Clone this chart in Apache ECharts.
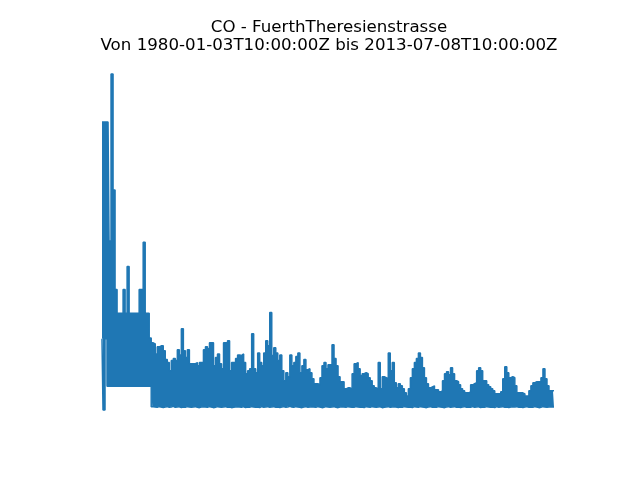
<!DOCTYPE html>
<html>
<head>
<meta charset="utf-8">
<script src="https://cdn.jsdelivr.net/npm/echarts@6/dist/echarts.min.js"></script>
<style>
html,body{margin:0;padding:0;background:#fff;}
#chart{width:640px;height:480px;}
</style>
</head>
<body>
<div id="chart"></div>
<script>
// Title lines
const titleLine1 = 'CO - FuerthTheresienstrasse';
const titleLine2 = 'Von 1980-01-03T10:00:00Z bis 2013-07-08T10:00:00Z';

// Envelope of the dense series, one bin per ~2 px of time (1980 -> 2013), upper values
const highValues = [
  8.57,8.57,8.57,8.57,5.03,10.0,6.55,3.59,2.88,2.88,
  2.88,3.59,2.88,4.27,2.88,2.88,2.88,2.88,2.88,3.59,
  3.59,4.99,2.88,2.88,2.14,
  2.00,1.97,1.67,1.88,1.91,1.91,1.76,1.50,1.41,1.17,
  1.47,1.53,1.47,1.79,1.64,2.42,1.76,1.56,1.79,1.38,
  1.38,1.38,1.41,1.32,1.41,1.41,1.79,1.88,1.82,2.00,
  2.00,1.32,1.56,1.67,1.38,1.23,2.00,2.00,2.06,1.17,
  1.41,1.41,1.53,1.64,1.62,1.67,1.41,1.08,1.17,1.23,
  2.27,1.23,1.11,1.70,1.41,1.32,1.70,2.06,1.91,2.90,
  1.62,1.85,1.70,1.47,1.64,1.17,0.87,1.11,0.99,1.64,
  1.32,1.41,1.59,1.70,1.11,1.32,1.50,1.20,1.23,1.11,
  0.93,0.78,0.78,0.75,0.96,1.32,1.41,1.23,1.35,1.35,
  1.94,1.53,1.32,0.99,0.84,0.84,0.63,0.66,0.66,0.63,
  1.08,1.38,1.41,1.23,1.02,1.08,1.11,1.08,0.96,0.87,
  0.72,0.66,0.63,1.41,0.63,0.99,0.96,0.93,1.70,1.17,
  1.41,0.81,0.66,0.78,0.72,0.63,0.51,0.42,0.63,0.96,
  1.23,1.41,1.53,1.70,1.56,1.26,0.96,0.78,0.66,0.69,
  0.72,0.60,0.60,0.54,0.57,0.87,1.08,1.14,1.05,1.26,
  1.08,0.87,0.84,0.75,0.63,0.57,0.51,0.51,0.54,0.75,
  0.78,0.81,1.17,1.26,1.17,0.87,0.87,0.75,0.69,0.63,
  0.57,0.48,0.48,0.48,0.54,0.93,1.29,1.11,0.96,0.99,
  0.96,0.72,0.51,0.51,0.51,0.48,0.42,0.42,0.57,0.72,
  0.81,0.84,0.84,0.84,0.96,1.23,0.93,0.72,0.57,0.57,
  0.57
];

// Lower values of the envelope
const lowValues = [
  2.12,0.00,2.12,0.71,0.71,0.71,0.71,0.71,0.71,0.71,
  0.71,0.71,0.71,0.71,0.71,0.71,0.71,0.71,0.71,0.71,
  0.71,0.71,0.71,0.71,0.71,
  0.10,0.09,0.08,0.10,0.09,0.07,0.09,0.10,0.08,0.09,0.11,0.08,0.09,0.10,0.07,0.09,0.08,0.10,0.09,0.08,
  0.09,0.10,0.08,0.07,0.09,0.10,0.09,0.08,0.10,0.09,0.07,0.08,0.10,0.09,0.08,0.09,0.10,0.08,0.09,0.07,
  0.08,0.09,0.10,0.09,0.08,0.10,0.07,0.09,0.08,0.10,0.09,0.08,0.09,0.07,0.10,0.08,0.09,0.10,0.08,0.09,
  0.10,0.08,0.09,0.07,0.09,0.10,0.08,0.09,0.11,0.09,0.08,0.10,0.09,0.08,0.07,0.09,0.10,0.08,0.09,0.10,
  0.09,0.08,0.10,0.09,0.07,0.08,0.10,0.09,0.08,0.09,0.10,0.08,0.07,0.09,0.10,0.09,0.08,0.10,0.09,0.08,
  0.08,0.10,0.09,0.08,0.09,0.07,0.10,0.09,0.08,0.10,0.09,0.08,0.09,0.10,0.07,0.08,0.09,0.10,0.08,0.09,
  0.10,0.09,0.07,0.09,0.08,0.10,0.09,0.08,0.09,0.07,0.10,0.09,0.08,0.10,0.09,0.08,0.07,0.09,0.10,0.08,
  0.09,0.08,0.10,0.09,0.08,0.07,0.09,0.10,0.08,0.09,0.10,0.08,0.09,0.07,0.09,0.10,0.08,0.09,0.08,0.10,
  0.08,0.09,0.10,0.07,0.09,0.08,0.10,0.09,0.08,0.09,0.07,0.10,0.08,0.09,0.10,0.08,0.09,0.07,0.09,0.10,
  0.09,0.10,0.08,0.09,0.07,0.09,0.10,0.08,0.09,0.08,0.10,0.09,0.07,0.08,0.10,0.09,0.08,0.09,0.10,0.09,
  0.09
];

const n = Math.min(highValues.length, lowValues.length);
const categories = [];
for (let i = 0; i < n; i++) categories.push(String(i));
const bandValues = [];
for (let i = 0; i < n; i++) bandValues.push(+(highValues[i] - lowValues[i]).toFixed(3));
const lows = lowValues.slice(0, n);

const color = '#1f77b4';
const chart = echarts.init(document.getElementById('chart'), null, {renderer: 'canvas'});
chart.setOption({
  animation: false,
  backgroundColor: '#ffffff',
  grid: {left: 102, right: 86, top: 74, bottom: 70, containLabel: false},
  xAxis: {type: 'category', data: categories, boundaryGap: false, show: false},
  yAxis: {type: 'value', min: 0, max: 10, show: false},
  graphic: [{
    type: 'text',
    x: 329, y: 19,
    style: {
      text: titleLine1 + '\n' + titleLine2,
      textAlign: 'center',
      textVerticalAlign: 'top',
      font: '16.67px "DejaVu Sans"',
      lineHeight: 17.5,
      fill: '#000'
    }
  }],
  series: [
    {type: 'line', data: lows, stack: 'env', step: 'middle', symbol: 'none', clip: false,
     lineStyle: {color: color, width: 1.5}, silent: true},
    {type: 'line', data: bandValues, stack: 'env', step: 'middle', symbol: 'none', clip: false,
     lineStyle: {color: color, width: 1.5}, areaStyle: {color: color, opacity: 1}, silent: true}
  ]
});
</script>
</body>
</html>
